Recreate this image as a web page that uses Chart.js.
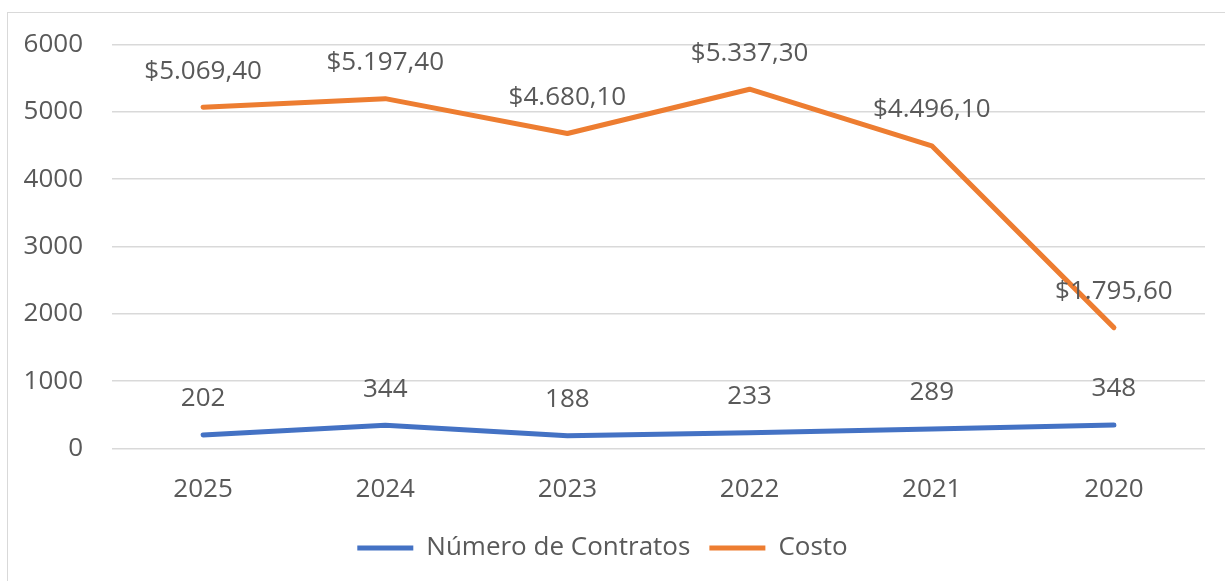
<!DOCTYPE html>
<html lang="es">
<head>
    <meta charset="UTF-8" />
    <title>Contratos y costo por año</title>
    <script src="https://cdn.jsdelivr.net/npm/chart.js"></script>
    <style>
        body {
            margin: 0;
            background: #fff;
            font-family: "Open Sans", sans-serif;
        }

        #frame {
            position: absolute;
            left: 7px;
            top: 12px;
            width: 1240px;
            height: 600px;
            border-top: 1.5px solid #d9d9d9;
            border-left: 1.5px solid #d9d9d9;
            pointer-events: none;
        }

        #grafico {
            position: absolute;
            left: 0;
            top: 0;
        }
    </style>
</head>
<body>
    <canvas id="grafico" width="1225" height="581"></canvas>
    <div id="frame"></div>

    <script>
        const anios = ['2025', '2024', '2023', '2022', '2021', '2020'];
        const numeroContratos = [202, 344, 188, 233, 289, 348];
        const costo = [5069.4, 5197.4, 4680.1, 5337.3, 4496.1, 1795.6];
        const ticksY = [0, 1000, 2000, 3000, 4000, 5000, 6000];

        const colorTexto = '#595959';
        const fuente = { family: '"Open Sans", sans-serif', size: 26 };

        // formato tipo "$5.069,40"
        function formatoCosto(v) {
            const partes = v.toFixed(2).split('.');
            const entero = partes[0].replace(/\B(?=(\d{3})+(?!\d))/g, '.');
            return '$' + entero + ',' + partes[1];
        }

        // etiquetas de datos encima de cada punto
        const etiquetas = {
            id: 'etiquetas',
            afterDatasetsDraw(chart) {
                const ctx = chart.ctx;
                ctx.save();
                ctx.font = `${fuente.size}px ${fuente.family}`;
                ctx.fillStyle = colorTexto;
                ctx.textAlign = 'center';
                ctx.textBaseline = 'middle';
                chart.data.datasets.forEach((ds, i) => {
                    const meta = chart.getDatasetMeta(i);
                    meta.data.forEach((pt, j) => {
                        const txt = ds.formato ? ds.formato(ds.data[j]) : String(ds.data[j]);
                        ctx.fillText(txt, pt.x, pt.y - 36);
                    });
                });
                ctx.restore();
            }
        };

        new Chart(document.getElementById('grafico').getContext('2d'), {
            type: 'line',
            data: {
                labels: anios,
                datasets: [
                    {
                        label: 'Número de Contratos',
                        data: numeroContratos,
                        borderColor: '#4472C4',
                        backgroundColor: '#4472C4',
                        borderWidth: 5,
                        borderCapStyle: 'round',
                        borderJoinStyle: 'round',
                        pointRadius: 0,
                        tension: 0
                    },
                    {
                        label: 'Costo',
                        data: costo,
                        formato: formatoCosto,
                        borderColor: '#ED7D31',
                        backgroundColor: '#ED7D31',
                        borderWidth: 5,
                        borderCapStyle: 'round',
                        borderJoinStyle: 'round',
                        pointRadius: 0,
                        tension: 0
                    }
                ]
            },
            options: {
                responsive: false,
                animation: false,
                layout: {
                    padding: { top: 44, right: 20, bottom: 10, left: 0 }
                },
                plugins: {
                    legend: {
                        position: 'bottom',
                        labels: {
                            color: colorTexto,
                            font: fuente,
                            boxWidth: 56,
                            boxHeight: 5,
                            padding: 19,
                            useBorderRadius: true,
                            borderRadius: 2.5,
                            generateLabels(chart) {
                                return chart.data.datasets.map((ds, i) => ({
                                    text: ds.label,
                                    fillStyle: ds.borderColor,
                                    strokeStyle: ds.borderColor,
                                    lineWidth: 0,
                                    fontColor: colorTexto,
                                    datasetIndex: i
                                }));
                            }
                        }
                    },
                    tooltip: { enabled: false }
                },
                scales: {
                    x: {
                        offset: true,
                        grid: { display: false, offset: true },
                        border: { display: false },
                        ticks: { color: colorTexto, font: fuente, padding: 17 },
                        afterFit(scale) { scale.height = 67.5; }
                    },
                    y: {
                        min: 0,
                        max: 6000,
                        afterBuildTicks(scale) {
                            scale.ticks = ticksY.map(v => ({ value: v }));
                        },
                        grid: { color: '#d9d9d9', lineWidth: 1.5, drawTicks: false },
                        border: { display: false },
                        ticks: {
                            color: colorTexto,
                            font: fuente,
                            padding: 29,
                            callback: v => String(v)
                        },
                        afterFit(scale) { scale.width = 112; }
                    }
                }
            },
            plugins: [etiquetas]
        });
    </script>
</body>
</html>
